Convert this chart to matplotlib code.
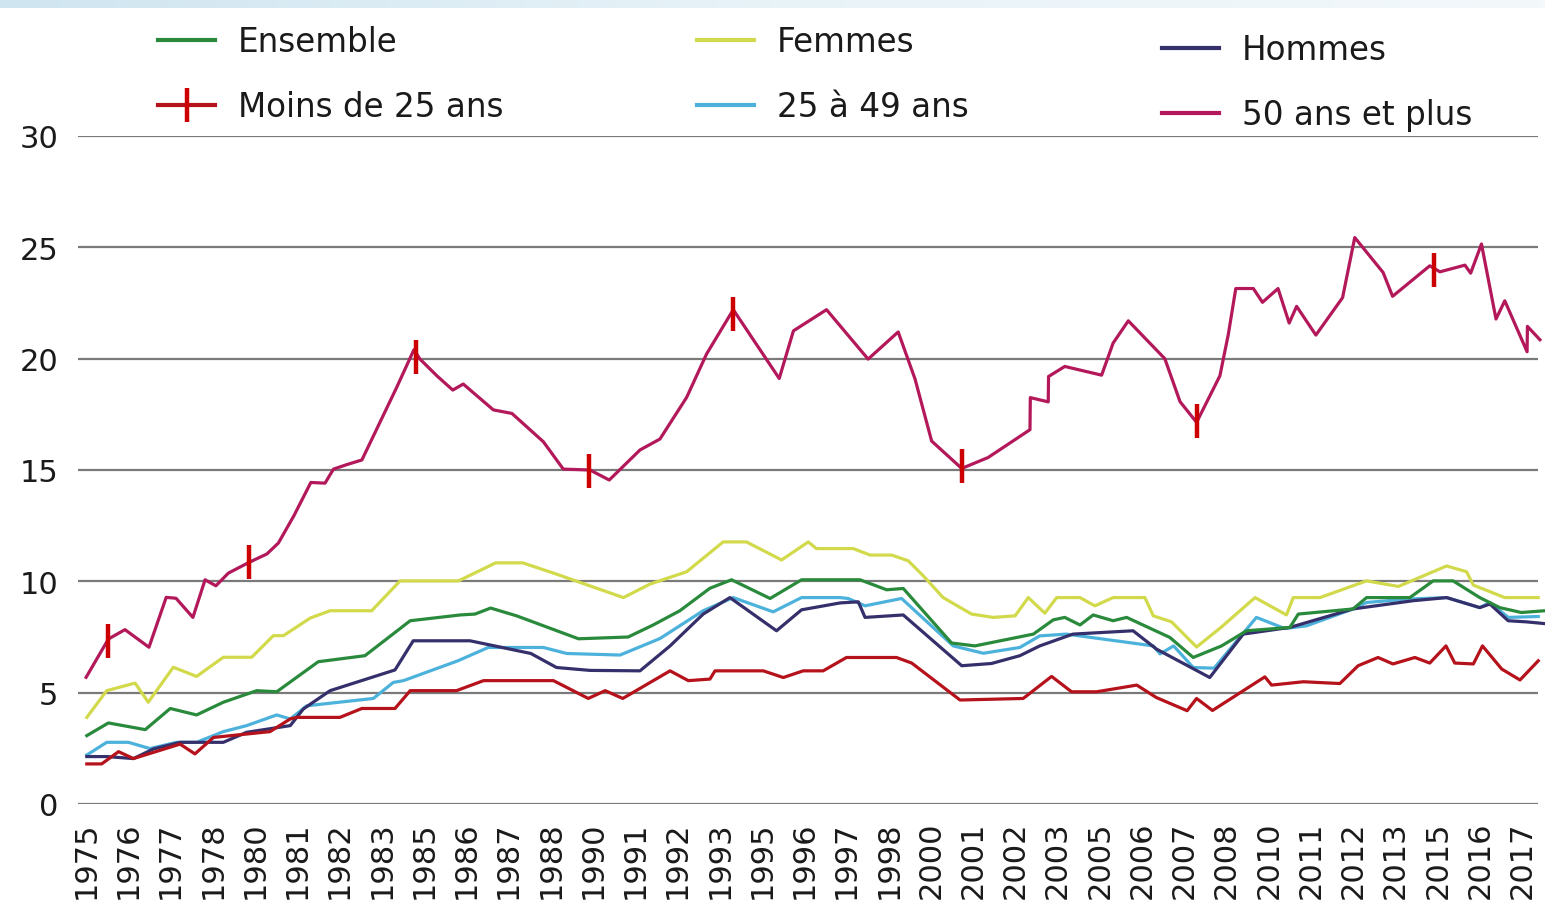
import numpy as np
import matplotlib
matplotlib.use("Agg")
import matplotlib.pyplot as plt
from matplotlib.lines import Line2D
from matplotlib.colors import LinearSegmentedColormap

# x values are decimal years
plus50_x = [1975.0, 1975.66, 1976.15, 1976.86, 1977.37, 1977.66, 1978.16, 1978.52, 1978.84, 1979.21,
            1979.82, 1980.35, 1980.69, 1981.15, 1981.65, 1982.07, 1982.32, 1982.71, 1983.16, 1983.6,
            1984.19, 1984.7, 1984.88, 1985.38, 1985.85, 1986.16, 1987.05, 1987.6, 1988.53, 1989.12,
            1989.91, 1990.48, 1991.39, 1991.98, 1992.77, 1993.36, 1994.15, 1995.51, 1995.93, 1996.91,
            1998.14, 1999.03, 1999.53, 2000.02, 2000.91, 2001.69, 2002.93, 2002.94, 2003.47, 2003.48,
            2003.96, 2005.05, 2005.39, 2005.84, 2006.92, 2007.37, 2007.86, 2008.55, 2008.8, 2009.02,
            2009.54, 2009.81, 2010.27, 2010.6, 2010.82, 2011.39, 2012.18, 2012.54, 2013.38, 2013.66,
            2014.76, 2015.06, 2015.8, 2015.97, 2016.29, 2016.72, 2016.98, 2017.64, 2017.65, 2018.02]
plus50_y = [5.69, 7.41, 7.83, 7.04, 9.28, 9.24, 8.38, 10.07, 9.80, 10.37,
            10.85, 11.23, 11.72, 12.95, 14.44, 14.41, 15.04, 15.24, 15.45, 16.84,
            18.71, 20.4, 19.98, 19.23, 18.59, 18.86, 17.70, 17.54, 16.27, 15.04,
            15.0, 14.55, 15.9, 16.39, 18.26, 20.21, 22.2, 19.11, 21.25, 22.2,
            19.98, 21.2, 19.08, 16.3, 15.07, 15.56, 16.81, 18.25, 18.06, 19.2,
            19.65, 19.26, 20.7, 21.7, 20.0, 18.07, 17.14, 19.23, 21.1, 23.15,
            23.15, 22.53, 23.15, 21.6, 22.35, 21.06, 22.74, 25.44, 23.87, 22.8,
            24.17, 23.9, 24.2, 23.84, 25.15, 21.78, 22.6, 20.31, 21.45, 20.85]

mark_x = [1975.66, 1979.82, 1984.77, 1989.88, 1994.15, 2000.91, 2007.86, 2014.89]
mark_y = [7.33, 10.87, 20.09, 14.96, 22.0, 15.19, 17.21, 23.96]

femmes_x = [1975.02, 1975.61, 1976.45, 1976.84, 1977.58, 1978.27, 1979.06, 1979.9, 1980.54, 1980.84,
            1981.63, 1982.22, 1983.45, 1984.29, 1986.02, 1987.12, 1987.92, 1988.83, 1990.9, 1991.69,
            1992.77, 1993.85, 1994.54, 1995.58, 1996.37, 1996.61, 1997.7, 1998.2, 1998.84, 1999.33,
            1999.77, 2000.36, 2001.2, 2001.84, 2002.49, 2002.88, 2003.37, 2003.72, 2004.41, 2004.85,
            2005.39, 2006.33, 2006.58, 2007.12, 2007.86, 2008.58, 2009.59, 2010.52, 2010.72, 2011.51,
            2012.89, 2013.83, 2015.26, 2015.85, 2016.05, 2016.98, 2017.97]
femmes_y = [3.89, 5.09, 5.43, 4.57, 6.14, 5.73, 6.59, 6.59, 7.56, 7.56,
            8.35, 8.68, 8.68, 10.02, 10.02, 10.83, 10.83, 10.37, 9.27, 9.88,
            10.43, 11.77, 11.77, 10.96, 11.77, 11.47, 11.47, 11.18, 11.18, 10.92,
            10.25, 9.27, 8.53, 8.38, 8.45, 9.27, 8.57, 9.27, 9.27, 8.9,
            9.27, 9.27, 8.45, 8.18, 7.05, 7.93, 9.27, 8.49, 9.27, 9.27,
            10.02, 9.77, 10.69, 10.43, 9.83, 9.27, 9.27]

ensemble_x = [1975.02, 1975.66, 1976.75, 1977.49, 1978.27, 1979.06, 1980.05, 1980.64, 1981.87, 1983.25,
              1984.59, 1986.07, 1986.51, 1986.97, 1987.74, 1989.57, 1991.04, 1991.78, 1992.57, 1993.46,
              1994.1, 1995.24, 1996.17, 1997.9, 1998.69, 1999.18, 2000.61, 2001.3, 2003.03, 2003.62,
              2003.96, 2004.41, 2004.8, 2005.39, 2005.79, 2007.07, 2007.76, 2008.6, 2009.34, 2010.62,
              2010.87, 2012.49, 2012.89, 2014.17, 2014.86, 2015.45, 2016.24, 2016.83, 2017.47, 2018.17]
ensemble_y = [3.07, 3.64, 3.34, 4.29, 4.0, 4.57, 5.09, 5.04, 6.39, 6.66,
              8.23, 8.49, 8.53, 8.8, 8.45, 7.42, 7.5, 8.04, 8.68, 9.69,
              10.07, 9.23, 10.07, 10.07, 9.62, 9.68, 7.23, 7.1, 7.63, 8.27,
              8.38, 8.04, 8.49, 8.23, 8.38, 7.48, 6.58, 7.1, 7.78, 7.93,
              8.53, 8.76, 9.27, 9.27, 10.02, 10.02, 9.27, 8.82, 8.6, 8.68]

hommes_x = [1975.02, 1975.61, 1976.4, 1976.99, 1977.78, 1979.06, 1979.75, 1981.04, 1981.43, 1982.22,
            1984.14, 1984.68, 1986.36, 1988.16, 1988.92, 1989.91, 1991.39, 1992.28, 1993.26, 1994.05,
            1995.43, 1996.17, 1997.31, 1997.85, 1998.05, 1999.18, 2000.91, 2001.79, 2002.63, 2003.22,
            2004.2, 2005.98, 2006.67, 2008.25, 2009.24, 2010.62, 2012.49, 2014.27, 2015.26, 2016.24,
            2016.54, 2017.08, 2017.62, 2018.17]
hommes_y = [2.13, 2.13, 2.04, 2.47, 2.77, 2.77, 3.22, 3.52, 4.27, 5.09,
            6.02, 7.33, 7.33, 6.76, 6.13, 6.0, 5.98, 7.1, 8.53, 9.27,
            7.78, 8.72, 9.03, 9.08, 8.38, 8.49, 6.21, 6.31, 6.66, 7.1,
            7.63, 7.78, 6.96, 5.68, 7.63, 7.93, 8.76, 9.13, 9.27, 8.82,
            8.98, 8.23, 8.18, 8.1]

a2549_x = [1975.02, 1975.61, 1976.25, 1976.89, 1977.68, 1978.27, 1979.06, 1979.75, 1980.64, 1981.04,
           1981.53, 1983.5, 1984.09, 1984.39, 1986.0, 1986.9, 1988.53, 1989.22, 1990.8, 1991.98,
           1993.26, 1994.15, 1995.33, 1996.17, 1997.31, 1997.55, 1998.05, 1999.13, 2000.66, 2001.55,
           2002.63, 2003.22, 2004.01, 2006.58, 2006.78, 2007.18, 2007.76, 2008.38, 2009.63, 2010.47,
           2011.11, 2012.49, 2012.89, 2014.07, 2015.26, 2016.24, 2016.54, 2017.08, 2017.97]
a2549_y = [2.2, 2.77, 2.77, 2.49, 2.77, 2.77, 3.25, 3.52, 4.0, 3.82,
           4.41, 4.74, 5.46, 5.54, 6.43, 7.03, 7.03, 6.76, 6.69, 7.43,
           8.68, 9.27, 8.63, 9.27, 9.27, 9.23, 8.9, 9.23, 7.1, 6.77,
           7.03, 7.55, 7.63, 7.1, 6.74, 7.1, 6.13, 6.1, 8.38, 7.88,
           8.0, 8.76, 9.05, 9.2, 9.27, 8.82, 9.05, 8.38, 8.42]

moins25_x = [1975.02, 1975.46, 1975.96, 1976.4, 1977.78, 1978.22, 1978.77, 1980.44, 1981.04, 1981.23,
             1982.51, 1983.16, 1984.14, 1984.59, 1985.96, 1986.76, 1988.83, 1989.86, 1990.36, 1990.88,
             1992.28, 1992.82, 1993.46, 1993.61, 1995.04, 1995.63, 1996.22, 1996.81, 1997.5, 1998.98,
             1999.43, 2000.86, 2002.73, 2003.57, 2004.16, 2004.9, 2006.09, 2006.67, 2007.58, 2007.86,
             2008.33, 2009.88, 2010.08, 2011.02, 2012.1, 2012.64, 2013.23, 2013.67, 2014.32, 2014.76,
             2015.24, 2015.5, 2016.05, 2016.32, 2016.89, 2017.43, 2017.97]
moins25_y = [1.8, 1.8, 2.35, 2.04, 2.69, 2.25, 2.99, 3.25, 3.82, 3.89,
             3.89, 4.29, 4.29, 5.09, 5.09, 5.54, 5.54, 4.74, 5.09, 4.74,
             5.98, 5.54, 5.61, 5.98, 5.98, 5.68, 5.98, 5.98, 6.58, 6.58,
             6.33, 4.67, 4.74, 5.73, 5.04, 5.04, 5.34, 4.78, 4.19, 4.74,
             4.2, 5.71, 5.34, 5.49, 5.41, 6.21, 6.58, 6.29, 6.58, 6.33,
             7.1, 6.33, 6.29, 7.1, 6.06, 5.57, 6.43]

tick_labels = ["1975", "1976", "1977", "1978", "1980", "1981", "1982", "1983", "1985", "1986",
               "1987", "1988", "1990", "1991", "1992", "1993", "1995", "1996", "1997", "1998",
               "2000", "2001", "2002", "2003", "2005", "2006", "2007", "2008", "2010", "2011",
               "2012", "2013", "2015", "2016", "2017"]
y_ticks = [0, 5, 10, 15, 20, 25, 30]

c_ens = "#2a8a3c"
c_fem = "#d2da4c"
c_hom = "#35306b"
c_2549 = "#4cb2dc"
c_m25 = "#b5121b"
c_50 = "#b3195a"
c_mark = "#cc0000"

plt.rcParams["font.family"] = ["DejaVu Sans"]

fig = plt.figure(figsize=(15.45, 9.12), dpi=100)

# light blue strip along the top edge
top = fig.add_axes([0, 1 - 9 / 912, 1, 9 / 912])
cmap = LinearSegmentedColormap.from_list("strip", ["#cfe5f0", "#e8f3f8", "#f3f8fb"])
top.imshow(np.linspace(0, 1, 256)[None, :], aspect="auto", cmap=cmap)
top.axis("off")

ax = fig.add_axes([78 / 1545, 107 / 912, 1467 / 1545, 668 / 912])
ax.set_xlim(1974.76, 2018.17)
ax.set_ylim(0, 30)
for s in ax.spines.values():
    s.set_visible(False)

ax.hlines(y_ticks, 1974.76, 2017.96, color="#7a7a7a", lw=1.6, zorder=1)

lw = 2.3
ax.plot(a2549_x, a2549_y, color=c_2549, lw=lw, zorder=2, clip_on=False)
ax.plot(hommes_x, hommes_y, color=c_hom, lw=lw, zorder=3, clip_on=False)
ax.plot(ensemble_x, ensemble_y, color=c_ens, lw=lw, zorder=4, clip_on=False)
ax.plot(femmes_x, femmes_y, color=c_fem, lw=lw, zorder=4, clip_on=False)
ax.plot(moins25_x, moins25_y, color=c_m25, lw=lw, zorder=4, clip_on=False)
ax.plot(plus50_x, plus50_y, color=c_50, lw=lw, zorder=5, clip_on=False)
ax.plot(mark_x, mark_y, ls="none", marker="|", ms=24, mew=3.2, color=c_mark, zorder=6)

ax.set_xticks(1975 + 1.25 * np.arange(len(tick_labels)))
ax.set_xticklabels(tick_labels, rotation=90)
ax.set_yticks(y_ticks)
ax.tick_params(axis="both", length=0, labelsize=22, colors="#1a1a1a")
ax.tick_params(axis="x", pad=12)
ax.tick_params(axis="y", pad=14)

# legend, three columns
def col_legend(handles, labels, x, y):
    leg = fig.legend(handles, labels, loc="upper left", bbox_to_anchor=(x, y),
                     frameon=False, fontsize=23.5, handlelength=1.75, handletextpad=0.7,
                     labelspacing=0.98, borderpad=0, borderaxespad=0, numpoints=1)
    for t in leg.get_texts():
        t.set_color("#1a1a1a")
    return leg

h_ens = Line2D([], [], color=c_ens, lw=3)
h_m25 = Line2D([], [], color=c_m25, lw=3, marker="|", ms=24, mew=3.2, mec=c_mark)
h_fem = Line2D([], [], color=c_fem, lw=3)
h_2549 = Line2D([], [], color=c_2549, lw=3)
h_hom = Line2D([], [], color=c_hom, lw=3)
h_50 = Line2D([], [], color=c_50, lw=3)

col_legend([h_ens, h_m25], ["Ensemble", "Moins de 25 ans"], 158 / 1545, 1 - 26 / 912)
col_legend([h_fem, h_2549], ["Femmes", "25 à 49 ans"], 697 / 1545, 1 - 26 / 912)
col_legend([h_hom, h_50], ["Hommes", "50 ans et plus"], 1162 / 1545, 1 - 34 / 912)

fig.savefig("out.png", dpi=100)
